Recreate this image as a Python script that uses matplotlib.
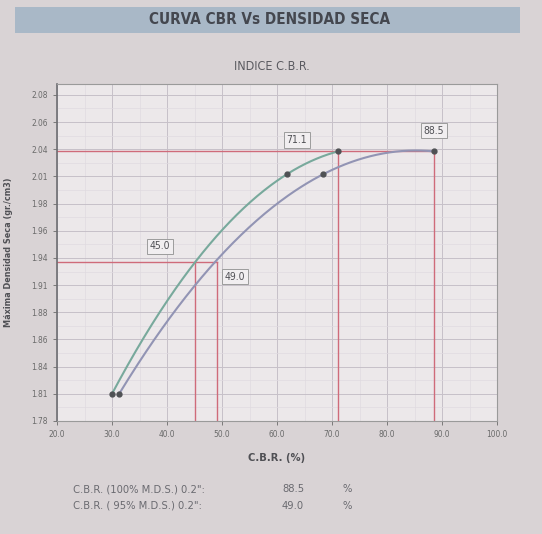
import numpy as np
import matplotlib
matplotlib.use("Agg")
import matplotlib.pyplot as plt
from matplotlib.patches import Rectangle

plt.rcParams['font.family'] = ['DejaVu Sans']
plt.rcParams['font.stretch'] = 'condensed'

# CBR test results: dry density of the three specimens and the CBR read for each
density = [1.810, 2.012, 2.033]
cbr_upper = [30.0, 61.8, 71.1]
cbr_lower = [31.3, 68.4, 88.5]

mds = 2.033                     # maximum dry density
mds_95 = 0.95 * mds
cbr_upper_100, cbr_upper_95 = 71.1, 45.0
cbr_lower_100, cbr_lower_95 = 88.5, 49.0

x_ticks = [20, 30, 40, 50, 60, 70, 80, 90, 100]
x_ticklabels = ["20.0", "30.0", "40.0", "50.0", "60.0", "70.0", "80.0", "90.0", "100.0"]
y_ticks = [1.785 + 0.025 * i for i in range(13)]
y_ticklabels = ["1.78", "1.81", "1.84", "1.86", "1.88", "1.91", "1.94",
                "1.96", "1.98", "2.01", "2.04", "2.06", "2.08"]

summary_labels = ['C.B.R. (100% M.D.S.) 0.2":', 'C.B.R. ( 95% M.D.S.) 0.2":']
summary_values = ["88.5", "49.0"]

W, H = 542, 534
fig = plt.figure(figsize=(W / 100, H / 100), dpi=100)
fig.patch.set_facecolor("#d9d3d5")

# title band
fig.patches.append(Rectangle((15 / W, 1 - 33 / H), 505 / W, 26 / H,
                             transform=fig.transFigure, facecolor="#a9b8c7",
                             edgecolor="none", zorder=0))
fig.text(270 / W, 1 - 19 / H, "CURVA CBR Vs DENSIDAD SECA", ha="center", va="center",
         fontsize=11, fontweight="bold", color="#44474f")
fig.text(272 / W, 1 - 66 / H, "INDICE C.B.R.", ha="center", va="center",
         fontsize=9, color="#5a5a60")

ax = fig.add_axes([57 / W, 1 - 421 / H, 440 / W, 337 / H])
ax.set_facecolor("#ece8ea")
ax.set_xlim(20, 100)
ax.set_ylim(1.785, 2.095)

ax.set_xticks(x_ticks)
ax.set_xticklabels(x_ticklabels)
ax.set_yticks(y_ticks)
ax.set_yticklabels(y_ticklabels)
ax.set_xticks(np.arange(25, 100, 10), minor=True)
ax.set_yticks([t + 0.0125 for t in y_ticks[:-1]], minor=True)
ax.tick_params(axis="both", which="major", labelsize=6, colors="#6a6a6a",
               length=3, width=0.6)
ax.tick_params(axis="both", which="minor", length=0)
ax.grid(True, which="major", color="#c6c0c8", linewidth=0.7)
ax.grid(True, which="minor", color="#e0dae0", linewidth=0.5)
ax.set_axisbelow(True)
for side, sp in ax.spines.items():
    sp.set_color("#9a9a9a" if side != "left" else "#6e6e72")
    sp.set_linewidth(0.8 if side != "left" else 1.2)

# reference lines for 100 % and 95 % of maximum dry density
red = "#cf6b7a"
ax.plot([20, cbr_lower_100], [mds, mds], color=red, lw=1.0, zorder=2)
ax.plot([cbr_upper_100, cbr_upper_100], [1.785, mds], color=red, lw=1.0, zorder=2)
ax.plot([cbr_lower_100, cbr_lower_100], [1.785, mds], color=red, lw=1.0, zorder=2)
ax.plot([20, cbr_lower_95], [mds_95, mds_95], color=red, lw=1.0, zorder=2)
ax.plot([cbr_upper_95, cbr_upper_95], [1.785, mds_95], color=red, lw=1.0, zorder=2)
ax.plot([cbr_lower_95, cbr_lower_95], [1.785, mds_95], color=red, lw=1.0, zorder=2)

# second-order fit through each set of points
for xs, col in ((cbr_upper, "#78a99c"), (cbr_lower, "#9294b4")):
    coef = np.polyfit(xs, density, 2)
    xx = np.linspace(xs[0], xs[-1], 200)
    ax.plot(xx, np.polyval(coef, xx), color=col, lw=1.5, zorder=3)
    ax.plot(xs, density, "o", color="#4f5154", ms=3.5, zorder=4)

box = dict(boxstyle="square,pad=0.25", facecolor="#f1eef0", edgecolor="#9c9c9c", lw=0.7)
ax.text(cbr_upper_100 - 7.5, mds + 0.0105, f"{cbr_upper_100:.1f}", ha="center", va="center",
        fontsize=7.5, color="#505055", bbox=box, zorder=5)
ax.text(cbr_lower_100, mds + 0.019, f"{cbr_lower_100:.1f}", ha="center", va="center",
        fontsize=7.5, color="#505055", bbox=box, zorder=5)
ax.text(cbr_upper_95 - 6.3, mds_95 + 0.0145, f"{cbr_upper_95:.1f}", ha="center", va="center",
        fontsize=7.5, color="#505055", bbox=box, zorder=5)
ax.text(cbr_lower_95 + 3.4, mds_95 - 0.0135, f"{cbr_lower_95:.1f}", ha="center", va="center",
        fontsize=7.5, color="#505055", bbox=box, zorder=5)

ax.set_xlabel("C.B.R. (%)", fontsize=8, fontweight="bold", color="#505055")
ax.xaxis.set_label_coords(0.5, -32 / 337)
ax.set_ylabel("Máxima Densidad Seca (gr./cm3)", fontsize=6.5, fontweight="bold",
              color="#505055")
ax.yaxis.set_label_coords(-44 / 440, 0.5)

for i, (lab, val) in enumerate(zip(summary_labels, summary_values)):
    yy = 1 - (489 + 17 * i) / H
    fig.text(73 / W, yy, lab, ha="left", va="center", fontsize=8, color="#6a6a70")
    fig.text(293 / W, yy, val, ha="center", va="center", fontsize=8, color="#6a6a70")
    fig.text(347 / W, yy, "%", ha="center", va="center", fontsize=8, color="#6a6a70")

fig.savefig("out.png", dpi=100, facecolor=fig.get_facecolor())
